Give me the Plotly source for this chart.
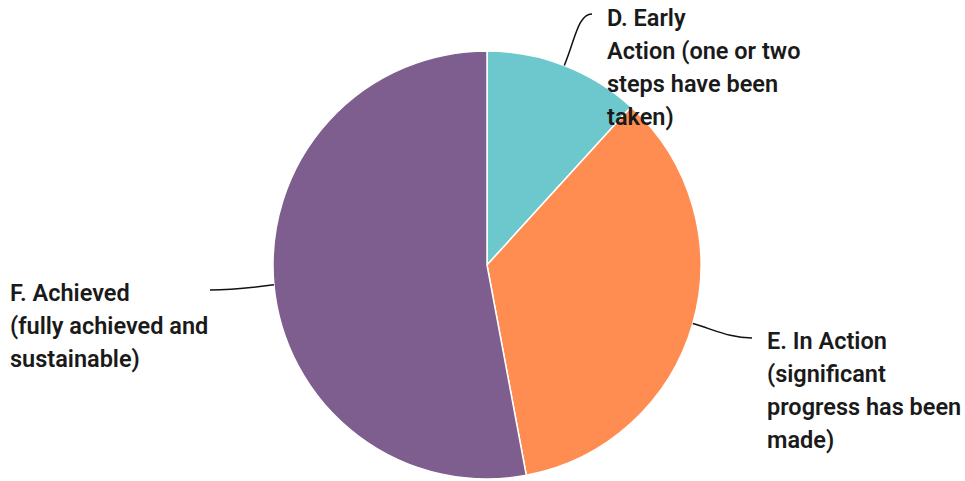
import math
import plotly.graph_objects as go

# ---- data ----
categories = [
    "D. Early<br>Action (one or two<br>steps have been<br>taken)",
    "E. In Action<br>(significant<br>progress has been<br>made)",
    "F. Achieved<br>(fully achieved and<br>sustainable)",
]
values = [2, 6, 9]
colors = ["#6CC8CD", "#FF8C50", "#7D5E8E"]

W, H = 965, 481
CX, CY, R = 487, 265, 214

fig = go.Figure(go.Pie(
    values=values,
    labels=[c.replace("<br>", " ") for c in categories],
    sort=False,
    direction="clockwise",
    rotation=0,
    marker=dict(colors=colors, line=dict(color="white", width=1.5)),
    textinfo="none",
    hoverinfo="label+value",
    showlegend=False,
    domain=dict(x=[(CX - R) / W, (CX + R) / W], y=[1 - (CY + R) / H, 1 - (CY - R) / H]),
))

def px(x, y):
    return x / W, 1 - y / H

# label anchors derived from slice mid-angles
total = sum(values)
cum = 0
mids = []
for v in values:
    a = (cum + v / 2) / total * 2 * math.pi
    mids.append((CX + R * math.sin(a), CY - R * math.cos(a)))
    cum += v

# leader line paths (pixel control points)
ends = [
    [(575, 40), (578, 14), (592, 14)],
    [(715, 330), (730, 338), (752, 338)],
    [(250, 288), (230, 290), (210, 290)],
]
shapes = []
for (sx, sy), pts in zip(mids, ends):
    p0 = px(sx, sy)
    c = [px(*p) for p in pts]
    path = "M {} {} C {} {}, {} {}, {} {}".format(p0[0], p0[1], c[0][0], c[0][1], c[1][0], c[1][1], c[2][0], c[2][1])
    shapes.append(dict(type="path", path=path, xref="paper", yref="paper",
                       line=dict(color="#111111", width=1.5)))

label_pos = [(605, 2), (765, 325), (8, 277)]
LINE = 33
annotations = []
for text, (lx, ly) in zip(categories, label_pos):
    for i, line in enumerate(text.split("<br>")):
        x, y = px(lx, ly + i * LINE)
        annotations.append(dict(text=line, x=x, y=y, xref="paper", yref="paper",
                                xanchor="left", yanchor="top", align="left",
                                showarrow=False,
                                font=dict(family="Roboto", size=23.5, color="#1a1a1a", weight=600)))

fig.update_layout(
    width=W, height=H,
    margin=dict(l=0, r=0, t=0, b=0),
    paper_bgcolor="white", plot_bgcolor="white",
    shapes=shapes, annotations=annotations,
)

fig.write_html("out.html", config={"displayModeBar": False},
               post_script="document.body.style.margin='0px';")
